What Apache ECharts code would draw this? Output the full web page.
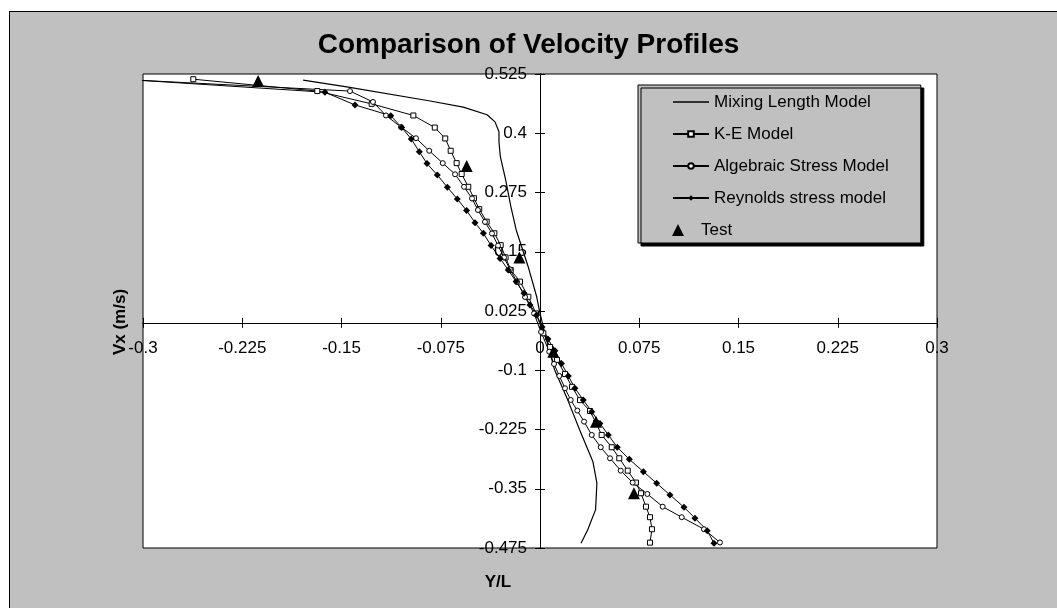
<!DOCTYPE html>
<html>
<head>
<meta charset="utf-8">
<script src="https://cdn.jsdelivr.net/npm/echarts@6/dist/echarts.min.js"></script>
<style>
  html, body { margin: 0; padding: 0; background: #ffffff; }
  #frame {
    position: absolute; left: 9px; top: 11px; width: 1100px; height: 700px;
    background: #c0c0c0; border-left: 1.5px solid #000; border-top: 1.5px solid #000;
  }
  #chart { position: absolute; left: 0; top: 0; width: 1057px; height: 608px; }
</style>
</head>
<body>
<div id="frame"></div>
<div id="chart"></div>
<script>
// Tick labels
const xTicks = [-0.3, -0.225, -0.15, -0.075, 0, 0.075, 0.15, 0.225, 0.3];
const yTicks = [-0.475, -0.35, -0.225, -0.1, 0.025, 0.15, 0.275, 0.4, 0.525];

// Series data: [Y/L, Vx]
const mixingLength = [
  [-0.179, 0.512], [-0.146, 0.498], [-0.083, 0.468], [-0.058, 0.455], [-0.040, 0.439],
  [-0.034, 0.424], [-0.031, 0.403], [-0.031, 0.382], [-0.030, 0.351], [-0.026, 0.302],
  [-0.022, 0.245], [-0.018, 0.196], [-0.009, 0.119], [-0.0025, 0.055], [0.000, 0.020],
  [0.004, -0.026], [0.011, -0.099], [0.021, -0.163], [0.030, -0.226], [0.040, -0.293],
  [0.043, -0.338], [0.042, -0.394], [0.036, -0.437], [0.031, -0.465]
];

const keModel = [
  [-0.262, 0.514], [-0.1683, 0.489], [-0.1272, 0.462], [-0.0957, 0.4375], [-0.0795, 0.412],
  [-0.0716, 0.389], [-0.0675, 0.363], [-0.063, 0.337], [-0.0592, 0.314], [-0.0542, 0.287],
  [-0.0499, 0.263], [-0.0459, 0.240], [-0.0403, 0.2135], [-0.0345, 0.189], [-0.0297, 0.164],
  [-0.026, 0.138], [-0.0221, 0.1116], [-0.0151, 0.087], [-0.0088, 0.055], [-0.003, 0.020],
  [0.0025, -0.022], [0.0076, -0.051], [0.0128, -0.078], [0.0189, -0.108], [0.0242, -0.135],
  [0.0302, -0.163], [0.0378, -0.186], [0.0423, -0.211], [0.0466, -0.2365], [0.0542, -0.2624],
  [0.0599, -0.2857], [0.0663, -0.3118], [0.0725, -0.337], [0.0763, -0.3595], [0.0801, -0.3878],
  [0.0831, -0.410], [0.0846, -0.4354], [0.0831, -0.4637]
];

const algebraicStress = [
  [-0.3043, 0.512], [-0.1436, 0.489], [-0.1262, 0.466], [-0.1164, 0.4375], [-0.105, 0.413],
  [-0.0937, 0.3895], [-0.0837, 0.363], [-0.0735, 0.337], [-0.0642, 0.3135], [-0.0574, 0.287],
  [-0.0514, 0.2625], [-0.0469, 0.238], [-0.0416, 0.213], [-0.0363, 0.1886], [-0.0317, 0.163],
  [-0.0272, 0.138], [-0.0227, 0.1127], [-0.0174, 0.0863], [-0.0113, 0.0546], [-0.0045, 0.0198],
  [0.0008, -0.0192], [0.007, -0.0608], [0.0106, -0.0867], [0.0146, -0.112], [0.0189, -0.138],
  [0.0232, -0.1627], [0.0282, -0.185], [0.0333, -0.2084], [0.0391, -0.2365], [0.0459, -0.2624],
  [0.0529, -0.2857], [0.061, -0.3118], [0.070, -0.337], [0.0811, -0.361], [0.0927, -0.3878],
  [0.1071, -0.410], [0.1239, -0.4354], [0.1360, -0.4633]
];

const reynoldsStress = [
  [-0.3043, 0.512], [-0.1625, 0.4865], [-0.1398, 0.4597], [-0.1128, 0.437], [-0.1045, 0.412],
  [-0.0973, 0.388], [-0.0912, 0.361], [-0.0854, 0.336], [-0.0776, 0.312], [-0.070, 0.286],
  [-0.0625, 0.2614], [-0.0555, 0.237], [-0.0491, 0.2114], [-0.0428, 0.189], [-0.037, 0.163],
  [-0.0302, 0.136], [-0.024, 0.1116], [-0.0181, 0.087], [-0.0121, 0.0624], [-0.0076, 0.0378],
  [-0.0025, 0.0167], [0.0015, -0.0087], [0.0060, -0.034], [0.0113, -0.059], [0.0162, -0.0856],
  [0.0214, -0.112], [0.0264, -0.138], [0.0327, -0.1627], [0.0391, -0.1873], [0.0453, -0.2122],
  [0.0516, -0.2365], [0.0584, -0.2624], [0.0675, -0.2878], [0.0781, -0.314], [0.0882, -0.3384],
  [0.0982, -0.363], [0.1088, -0.389], [0.1171, -0.412], [0.1264, -0.4384], [0.1315, -0.465]
];

const testData = [
  [-0.213, 0.510], [-0.0554, 0.331], [-0.0156, 0.138], [0.010, -0.061],
  [0.0423, -0.2084], [0.071, -0.3595]
];

const FONT = 'Arial, "Liberation Sans", sans-serif';
const fmt = v => String(+v.toFixed(3));

// Plot area and axis ranges
const GRID = { left: 143, top: 74, width: 794, height: 474 };
const X_MIN = xTicks[0], X_MAX = xTicks[xTicks.length - 1];
const Y_MIN = yTicks[0], Y_MAX = yTicks[yTicks.length - 1];
// Pixel distance from each grid edge to the zero line, so the axes cross at the origin
const zeroFromLeft = GRID.width * (0 - X_MIN) / (X_MAX - X_MIN);
const zeroFromTop = GRID.height * (Y_MAX - 0) / (Y_MAX - Y_MIN);

// Points lying left of the plot frame keep their line but draw no marker
const hideOutside = pts => pts.map(p => (p[0] < X_MIN ? { value: p, symbol: 'none' } : p));

const chart = echarts.init(document.getElementById('chart'), null, { renderer: 'canvas' });

const lineBase = {
  type: 'line',
  clip: false,
  xAxisIndex: 0,
  yAxisIndex: 0,
  lineStyle: { color: '#000', width: 1 },
  emphasis: { disabled: true },
  animation: false
};

const tickStyle = { color: '#000', width: 1 };

chart.setOption({
  backgroundColor: 'transparent',
  animation: false,
  title: {
    text: 'Comparison of Velocity Profiles',
    left: 'center',
    top: 26,
    textStyle: { fontFamily: FONT, fontSize: 28, fontWeight: 'bold', color: '#000' }
  },
  grid: Object.assign({
    containLabel: false, outerBoundsMode: 'none',
    show: true, backgroundColor: '#fff', borderColor: '#000', borderWidth: 1
  }, GRID),
  legend: [
    {
      data: ['Mixing Length Model', 'K-E Model', 'Algebraic Stress Model', 'Reynolds stress model']
        .map(n => n === 'Mixing Length Model'
          ? { name: n, icon: 'path://M0,0 L36,0 L36,1.3 L0,1.3 Z' }
          : { name: n }),
      orient: 'vertical',
      left: 638, top: 85,
      padding: [8, 32, 36, 34],
      itemWidth: 36, itemHeight: 7, itemGap: 14,
      symbolKeepAspect: true,
      selectedMode: false,
      backgroundColor: '#c0c0c0',
      borderColor: '#000', borderWidth: 1,
      shadowColor: '#000', shadowBlur: 0, shadowOffsetX: 3, shadowOffsetY: 3,
      textStyle: { fontFamily: FONT, fontSize: 17, color: '#000', lineHeight: 18 }
    },
    {
      data: [{ name: 'Test', icon: 'path://M6,0 L12,12 L0,12 Z', itemStyle: { color: '#000', opacity: 1 } }],
      orient: 'vertical',
      left: 672, top: 221,
      padding: 0,
      itemWidth: 36, itemHeight: 12,
      symbolKeepAspect: true,
      selectedMode: false,
      textStyle: { fontFamily: FONT, fontSize: 17, color: '#000', lineHeight: 18 }
    }
  ],
  xAxis: [
    {
      type: 'value', min: X_MIN, max: X_MAX, interval: 0.075, position: 'bottom',
      offset: -(GRID.height - zeroFromTop),
      name: 'Y/L', nameLocation: 'middle', nameGap: 251,
      nameTextStyle: { fontFamily: FONT, fontSize: 17, fontWeight: 'bold', color: '#000', padding: [0, 84, 0, 0] },
      axisLine: { onZero: false, lineStyle: { color: '#000', width: 1 } },
      axisTick: { show: true, inside: false, length: 5, lineStyle: tickStyle },
      axisLabel: { margin: 17, fontFamily: FONT, fontSize: 17, color: '#000', formatter: fmt },
      splitLine: { show: false }
    },
    {
      type: 'value', min: X_MIN, max: X_MAX, interval: 0.075, position: 'top',
      offset: -zeroFromTop,
      axisLine: { onZero: false, lineStyle: { color: '#000', width: 1 } },
      axisTick: { show: true, inside: false, length: 5, lineStyle: tickStyle },
      axisLabel: { show: false },
      splitLine: { show: false }
    }
  ],
  yAxis: [
    {
      type: 'value', min: Y_MIN, max: Y_MAX, position: 'left',
      offset: -zeroFromLeft,
      name: 'Vx (m/s)', nameLocation: 'middle', nameGap: 411, nameRotate: 90,
      nameTextStyle: { fontFamily: FONT, fontSize: 17, fontWeight: 'bold', color: '#000', padding: [0, 22, 0, 0] },
      axisLine: { onZero: false, lineStyle: { color: '#000', width: 1 } },
      axisTick: { show: true, inside: false, length: 5, customValues: yTicks, lineStyle: tickStyle },
      axisLabel: { margin: 13, fontFamily: FONT, fontSize: 17, color: '#000', customValues: yTicks, formatter: fmt },
      splitLine: { show: false }
    },
    {
      type: 'value', min: Y_MIN, max: Y_MAX, position: 'right',
      offset: -(GRID.width - zeroFromLeft),
      axisLine: { onZero: false, lineStyle: { color: '#000', width: 1 } },
      axisTick: { show: true, inside: false, length: 5, customValues: yTicks, lineStyle: tickStyle },
      axisLabel: { show: false },
      splitLine: { show: false }
    }
  ],
  series: [
    Object.assign({}, lineBase, {
      name: 'Mixing Length Model', data: mixingLength, symbol: 'none',
      itemStyle: { color: '#000' }, lineStyle: { color: '#000', width: 1.2 }
    }),
    Object.assign({}, lineBase, {
      name: 'K-E Model', data: hideOutside(keModel), symbol: 'rect', symbolSize: 5,
      itemStyle: { color: '#fff', borderColor: '#000', borderWidth: 1 }
    }),
    Object.assign({}, lineBase, {
      name: 'Algebraic Stress Model', data: hideOutside(algebraicStress), symbol: 'circle', symbolSize: 5,
      itemStyle: { color: '#fff', borderColor: '#000', borderWidth: 1 }
    }),
    Object.assign({}, lineBase, {
      name: 'Reynolds stress model', data: hideOutside(reynoldsStress), symbol: 'diamond', symbolSize: 7,
      itemStyle: { color: '#000' }
    }),
    {
      type: 'scatter', name: 'Test', data: testData, symbol: 'triangle', symbolSize: 12,
      xAxisIndex: 0, yAxisIndex: 0, clip: false,
      itemStyle: { color: '#000', opacity: 1 }, emphasis: { disabled: true }, z: 3
    }
  ]
});
</script>
</body>
</html>
